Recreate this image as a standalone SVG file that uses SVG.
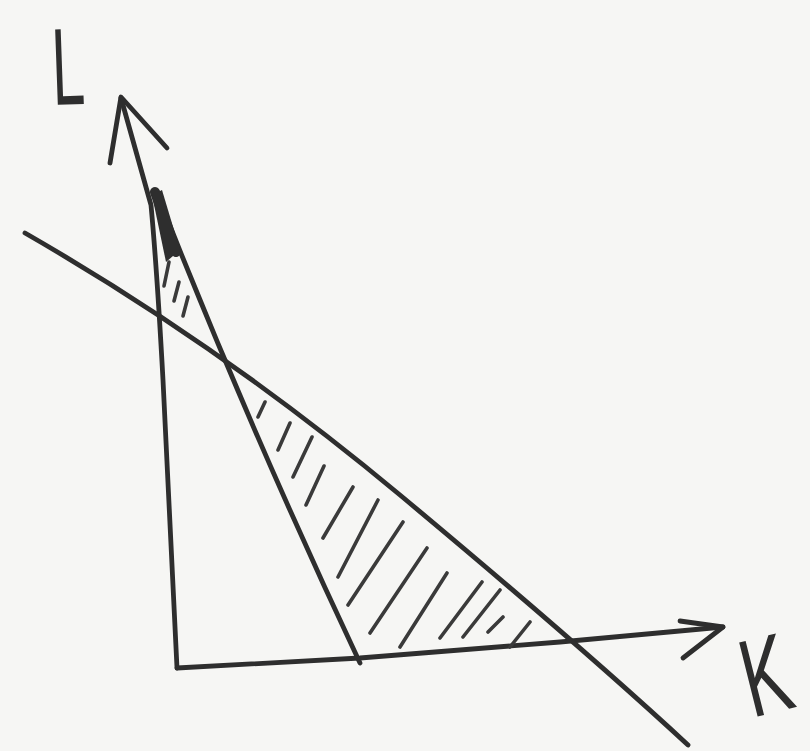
<svg xmlns="http://www.w3.org/2000/svg" width="810" height="751" viewBox="0 0 810 751">
<style>
.ln{fill:none;stroke:#2e2e2e;stroke-width:4.8;stroke-linecap:round;stroke-linejoin:round}
.ht{fill:none;stroke:#3a3a3a;stroke-width:3.6;stroke-linecap:round}
.lbl{font-family:"Liberation Sans",Arial,sans-serif;font-size:118px;fill:#2e2e2e}
</style>
<rect width="810" height="751" fill="#f6f6f4"/>
<g id="axes">
<path class="ln" d="M177,668 L163,380 Q157,270 151,205 L121,98"/>
<path class="ln" d="M110,163 L121,97 L167,148"/>
<path class="ln" d="M177,668 L360,658 L560,642 L723,627"/>
<path class="ln" d="M680,621 L723,627 L683,658"/>
</g>
<g id="lines">
<path class="ln" d="M25,233 Q220,345 400,495 T688,745"/>
<path class="ln" d="M157,193 Q248,425 360,663"/>
<path class="ln" style="stroke-width:10" d="M155,192 L176,252"/>
<path fill="#2e2e2e" d="M152,195 L162,190 L180,250 L166,262 Z"/>
</g>
<g id="hatching">
<path class="ht" d="M164,286 L169,262 M174,301 L179,282 M183,316 L188,297"/>
<path class="ht" d="M258,417 L265,402 M278,450 L290,423 M293,477 L312,437 M306,505 L324,466 M323,538 L353,487 M338,577 L378,500 M348,605 L403,522 M370,633 L427,548 M400,647 L447,573 M440,638 L482,582 M463,637 L500,590 M488,632 L503,617 M510,647 L530,622"/>
</g>
<g id="labels">
<text class="lbl" transform="translate(53,105) rotate(-2) scale(0.5,0.93)">L</text>
<text class="lbl" transform="translate(752,718) rotate(-14) scale(0.6,0.94)">K</text>
</g>
</svg>
